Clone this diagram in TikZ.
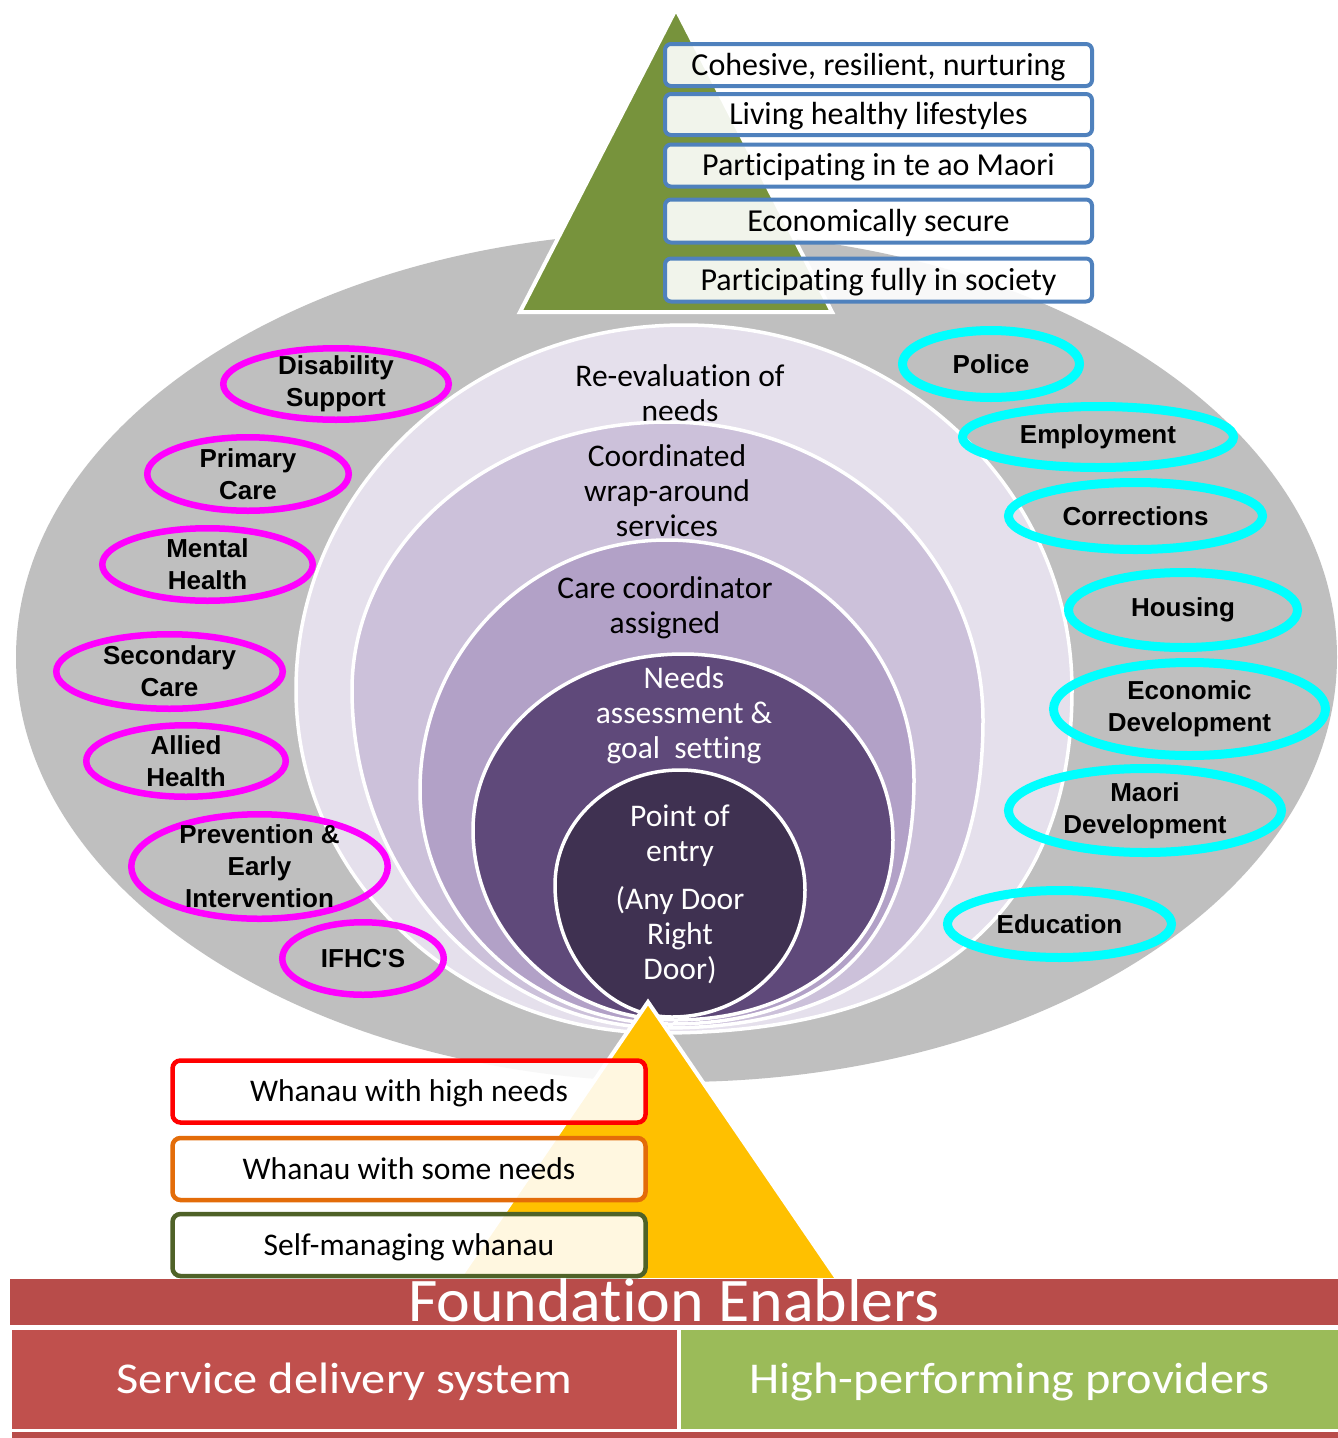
\documentclass[tikz,border=0pt]{standalone}
\usepackage{fontspec}
\setmainfont{Carlito}[Ligatures=NoCommon]
\newfontfamily\barfont{Carlito}[FakeStretch=1.1, Ligatures=NoCommon]
\newfontfamily\foundfont{Carlito}[FakeStretch=1.03, Ligatures=NoCommon]
\newfontfamily\arialfont{Liberation Sans}
\usetikzlibrary{shapes.geometric}
\definecolor{bggray}{RGB}{191,191,191}
\definecolor{trigreen}{RGB}{119,147,60}
\definecolor{boxblue}{RGB}{79,129,189}
\definecolor{ringA}{RGB}{229,224,236}
\definecolor{ringB}{RGB}{204,193,218}
\definecolor{ringC}{RGB}{178,161,199}
\definecolor{ringD}{RGB}{95,73,122}
\definecolor{ringE}{RGB}{63,49,81}
\definecolor{pinkline}{RGB}{255,0,255}
\definecolor{cyanline}{RGB}{0,255,255}
\definecolor{triyellow}{RGB}{255,192,0}
\definecolor{needred}{RGB}{255,0,0}
\definecolor{needorange}{RGB}{227,108,9}
\definecolor{needgreen}{RGB}{79,98,40}
\definecolor{barred}{RGB}{184,76,74}
\definecolor{servred}{RGB}{192,80,77}
\definecolor{provgreen}{RGB}{155,187,89}
\newcommand\eggring[9]{%
  \pgfmathsetmacro\eggL{#2-#3}%
  \pgfmathsetmacro\eggR{#2+#3}%
  \pgfmathsetmacro\eggKx{0.5523*#3}%
  \pgfmathsetmacro\eggKyL{0.5523*(#5-#4)}%
  \pgfmathsetmacro\eggKyR{0.5523*(#6-#4)}%
  \pgfmathsetmacro\eggBL{#5+0.55*(#8-#5)}%
  \pgfmathsetmacro\eggBR{#6+0.55*(#8-#6)}%
  \pgfmathsetmacro\eggML{#7-0.55*(#7-\eggL)}%
  \pgfmathsetmacro\eggMR{#7+#9*(\eggR-#7)}%
  \pgfmathsetmacro\eggTL{#5-\eggKyL}%
  \pgfmathsetmacro\eggTR{#6-\eggKyR}%
  \pgfmathsetmacro\eggXL{#2-\eggKx}%
  \pgfmathsetmacro\eggXR{#2+\eggKx}%
  \filldraw[ringline,#1] (#7,#8) .. controls (\eggML,#8) and (\eggL,\eggBL) .. (\eggL,#5)
     .. controls (\eggL,\eggTL) and (\eggXL,#4) .. (#2,#4)
     .. controls (\eggXR,#4) and (\eggR,\eggTR) .. (\eggR,#6)
     .. controls (\eggR,\eggBR) and (\eggMR,#8) .. (#7,#8) -- cycle;
}
\tikzset{
  ringline/.style={draw=white, line width=3.5},
  outcome/.style={draw=boxblue, line width=4, rounded corners=6, fill=white,
    fill opacity=0.9, text opacity=1, minimum width=427, inner sep=0,
    font=\fontsize{32}{38}\selectfont, text height=20.6, text depth=0},
  whanau/.style={line width=4.5, rounded corners=8, fill=white, fill opacity=0.88,
    text opacity=1, minimum width=473, minimum height=62, inner sep=0,
    font=\fontsize{31.5}{37}\selectfont, text height=20.3, text depth=0},
  ringtext/.style={align=center, inner sep=0, font=\fontsize{31.5}{35}\selectfont},
  leftell/.style={ellipse, draw=pinkline, line width=6.5, inner sep=0},
  rightell/.style={ellipse, draw=cyanline, line width=9, inner sep=0},
  elltext/.style={align=center, inner sep=0, font=\arialfont\bfseries\fontsize{26}{32}\selectfont},
  barbox/.style={inner sep=0, text=white},
}
\begin{document}
\begin{tikzpicture}[x=1pt,y=-1pt]
\useasboundingbox (0,0) rectangle (1338,1438);
\fill[white] (0,0) rectangle (1338,1438);
% background ellipse
\fill[bggray] (676.5,657) ellipse [x radius=660.5, y radius=425];
% green pyramid
\filldraw[fill=trigreen, draw=white, line width=4] (676,9) -- (832,312) -- (520,312) -- cycle;
% outcome boxes
\node[outcome, minimum height=42] (o1) at (878.5,65) {Cohesive, resilient, nurturing};
\node[outcome, minimum height=41] (o2) at (878.5,114.5) {Living healthy lifestyles};
\node[outcome, minimum height=42] (o3) at (878.5,165.5) {Participating in te ao Maori};
\node[outcome, minimum height=43] (o4) at (878.5,221) {Economically secure};
\node[outcome, minimum height=43] (o5) at (878.5,280) {Participating fully in society};
% nested rings
\eggring{fill=ringA}{684}{388}{325}{690}{690}{660}{1033}{0.75}
\node[ringtext] (reeval) at (680,393) {Re-evaluation of\\needs};
\eggring{fill=ringB}{667.5}{315.5}{422}{690}{720}{665}{1028}{0.75}
\node[ringtext] (wrap) at (667,491) {Coordinated\\wrap-around\\services};
\eggring{fill=ringC}{667}{247}{540}{790}{780}{670}{1024}{0.75}
\node[ringtext] (carec) at (665,607.5) {Care coordinator\\assigned};
\eggring{fill=ringD}{683}{210}{654}{830}{840}{675}{1020}{0.6}
\node[ringtext, text=white] (needs) at (684,715) {Needs\\assessment \&\\goal\ \ setting};
\eggring{fill=ringE}{680}{125}{770}{885}{890}{672}{1017}{0.55}
\node[ringtext, text=white] (entry) at (680,894) {Point of\\entry\\[13pt](Any Door\\Right\\Door)};
% health sector ellipses
\node[leftell, minimum width=225.5, minimum height=71.5, label={[elltext]center:{Disability\\Support}}] (dis) at (336,384) {};
\node[leftell, minimum width=201.5, minimum height=73.5, label={[elltext]center:{Primary\\Care}}] (prim) at (248,474) {};
\node[leftell, minimum width=210.5, minimum height=72.5, label={[elltext]center:{Mental\\Health}}] (ment) at (207.5,564.5) {};
\node[leftell, minimum width=226.5, minimum height=74.5, label={[elltext]center:{Secondary\\Care}}] (sec) at (169.5,671.5) {};
\node[leftell, minimum width=199.5, minimum height=71.5, label={[elltext]center:{Allied\\Health}}] (allied) at (186,761) {};
\node[leftell, minimum width=256.5, minimum height=104.5, label={[elltext]center:{Prevention \&\\Early\\Intervention}}] (prev) at (259.5,866.5) {};
\node[leftell, minimum width=161.5, minimum height=72.5, label={[elltext]center:{IFHC'S}}] (ifhc) at (363,958.5) {};
% other sector ellipses
\node[rightell, minimum width=177, minimum height=67, label={[elltext]center:{Police}}] (police) at (991,364) {};
\node[rightell, minimum width=271, minimum height=61, label={[elltext]center:{Employment}}] (employ) at (1098,437) {};
\node[rightell, minimum width=254, minimum height=67, label={[elltext]center:{Corrections}}] (correct) at (1135.5,516) {};
\node[rightell, minimum width=229, minimum height=75, label={[elltext]center:{Housing}}] (housing) at (1183,610) {};
\node[rightell, minimum width=272, minimum height=93, label={[elltext]center:{Economic\\Development}}] (econ) at (1189.5,709) {};
\node[rightell, minimum width=273, minimum height=84, label={[elltext]center:{Maori\\Development}}] (maori) at (1145,810.5) {};
\node[rightell, minimum width=224, minimum height=67, label={[elltext]center:{Education}}] (educ) at (1059.5,924) {};
% yellow pyramid
\filldraw[fill=triyellow, draw=white, line width=4] (648,1002) -- (838,1280) -- (458,1280) -- cycle;
% whanau boxes
\node[whanau, draw=needred] (w1) at (409,1091.5) {Whanau with high needs};
\node[whanau, draw=needorange] (w2) at (409,1169) {Whanau with some needs};
\node[whanau, draw=needgreen] (w3) at (409,1245) {Self-managing whanau};
% foundation bars
\node[barbox, fill=barred, minimum width=1328, minimum height=46,
  font=\foundfont\fontsize{62}{70}\selectfont, text height=39.5, text depth=0] (found) at (674,1302) {Foundation Enablers};
\node[barbox, fill=servred, minimum width=665, minimum height=99,
  font=\barfont\fontsize{44}{50}\selectfont, text height=28.3, text depth=0] (serv) at (344.5,1379.5) {Service delivery system};
\node[barbox, fill=provgreen, minimum width=657, minimum height=99,
  font=\barfont\fontsize{44}{50}\selectfont, text height=28.3, text depth=0] (prov) at (1009.5,1379.5) {High-performing providers};
\fill[barred] (12,1432) rectangle (1338,1440);
\end{tikzpicture}
\end{document}
